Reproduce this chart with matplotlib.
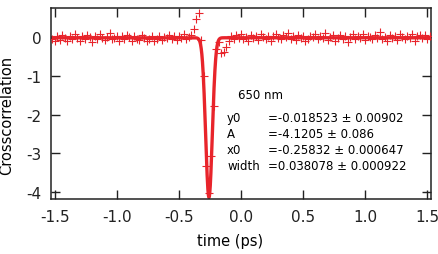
import numpy as np
import matplotlib
matplotlib.use("Agg")
import matplotlib.pyplot as plt

plt.rcParams['font.family'] = ['DejaVu Sans']
plt.rcParams['axes.unicode_minus'] = False

# ─── Data ────────────────────────────────────────────────────────────
# sampled time grid (ps), 0.02 ps steps
t_start, t_step, n_pts = -1.52, 0.02, 153
time_ps = np.round(t_start + t_step * np.arange(n_pts), 3)

xcorr = [
    -0.06, -0.11, 0.03, -0.08, 0.06, -0.02, -0.09, 0.04, -0.05, 0.08,
    -0.03, -0.10, 0.02, -0.06, 0.05, -0.01, -0.12, 0.03, -0.04, 0.07,
    -0.02, -0.08, 0.01, 0.10, -0.05, -0.03, 0.04, -0.09, 0.02, -0.06,
    0.06, -0.01, -0.10, 0.03, -0.04, -0.08, 0.05, -0.02, -0.11, -0.06,
    0.02, -0.09, -0.04, 0.04, -0.07, 0.01, -0.03, 0.06, -0.05, 0.02,
    -0.08, 0.04, -0.02, 0.07, -0.04, 0.01, 0.05,
    # dip region
    0.21, 0.47, 0.62, -0.08, -1.00, -3.34, -4.03, -3.08, -1.79, -0.30,
    -0.12, -0.40, -0.38, -0.25, -0.11,
    # right baseline
    0.02, -0.06, 0.05, -0.03, 0.08, -0.04, 0.01, -0.09, 0.06, -0.02,
    0.03, -0.07, 0.09, -0.01, -0.05, 0.04, -0.10, 0.02, 0.07, -0.03,
    -0.06, 0.05, -0.01, 0.11, -0.04, 0.02, -0.08, 0.06, -0.02, 0.03,
    -0.11, -0.05, 0.04, -0.01, 0.08, -0.06, 0.02, -0.03, 0.10, -0.07,
    0.01, 0.05, -0.09, -0.02, 0.06, -0.04, 0.03, -0.12, 0.00, 0.07,
    -0.05, 0.02, -0.03, 0.09, -0.08, 0.04, -0.01, -0.06, 0.05, -0.02,
    0.12, -0.04, 0.01, -0.09, 0.06, -0.03, 0.03, -0.07, 0.08, -0.01,
    -0.05, 0.04, -0.02, 0.07, -0.10, 0.02, 0.05, -0.03, 0.06, -0.04, 0.03,
]

# gaussian fit parameters (as printed on the chart)
fit_names  = ["y0", "A", "x0", "width"]
fit_vals   = [-0.018523, -4.1205, -0.25832, 0.038078]
fit_texts  = ["=-0.018523 \u00b1 0.00902", "=-4.1205 \u00b1 0.086",
              "=-0.25832 \u00b1 0.000647", "=0.038078 \u00b1 0.000922"]
wavelength = "650 nm"

xticks = [-1.5, -1.0, -0.5, 0.0, 0.5, 1.0, 1.5]
yticks = [0, -1, -2, -3, -4]

red = '#e8242b'

# ─── Plot ────────────────────────────────────────────────────────────
fig = plt.figure(figsize=(4.39, 2.55), dpi=100)
ax = fig.add_axes([51/439, 1 - 200/255, 380/439, 191/255])

y0, A, x0, w = fit_vals
t_fit = np.linspace(time_ps[0], time_ps[-1], 3000)
ax.plot(t_fit, y0 + A * np.exp(-((t_fit - x0) / w) ** 2),
        color=red, lw=2.4, zorder=2)
ax.plot(time_ps, xcorr, ls='none', marker='+', ms=5.5, mew=0.8,
        color=red, zorder=3)

ax.set_xlim(-1.532, 1.532)
ax.set_ylim(-4.18, 0.75)
ax.set_xticks(xticks)
ax.set_xticklabels([f"{v:.1f}" for v in xticks])
ax.set_yticks(yticks)
ax.set_yticklabels([str(v) for v in yticks])
ax.tick_params(direction='in', length=6.5, width=1.0, labelsize=11,
               top=True, right=True, pad=7, colors='#222222')
for s in ax.spines.values():
    s.set_linewidth(1.1)
    s.set_color('#222222')

ax.set_xlabel("time (ps)", fontsize=10.5)
ax.xaxis.set_label_coords(0.47, -0.18)
ax.set_ylabel("Crosscorrelation", fontsize=10.5)
ax.yaxis.set_label_coords(-0.097, 0.445)

ax.text(238, 255 - 96, wavelength, transform=None, fontsize=8.5,
        va='center', ha='left')
for i, (nm, tx) in enumerate(zip(fit_names, fit_texts)):
    yy = 255 - (119 + 16 * i)
    ax.text(227, yy, nm, transform=None, fontsize=8.5, va='center')
    ax.text(268, yy, tx, transform=None, fontsize=8.5, va='center')

fig.savefig("out.png", dpi=100)
